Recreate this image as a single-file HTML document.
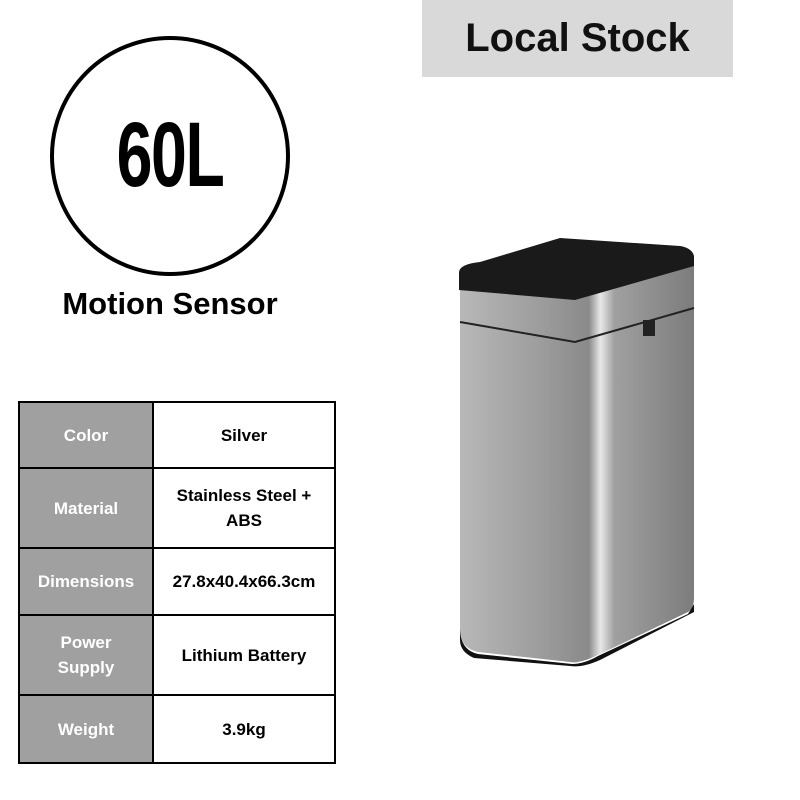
<!DOCTYPE html>
<html><head><style>
body{margin:0;width:800px;height:800px;background:#fff;position:relative;overflow:hidden;font-family:"Liberation Sans",sans-serif}
.ab{position:absolute}
table{border-collapse:collapse;position:absolute;left:18px;top:401px;width:318px}
td{border:2px solid #000;text-align:center;font-weight:bold;font-size:17px;line-height:25px;padding:0}
td.k{background:#a0a0a0;color:#fff;width:132px}
</style></head><body>
<div class="ab" style="left:422px;top:0;width:311px;height:77px;background:#d9d9d9;text-align:center;line-height:77px;font-size:40px;font-weight:bold;color:#111">Local Stock</div>
<div class="ab" style="left:50px;top:36px;width:232px;height:232px;border:4px solid #000;border-radius:50%"></div>
<div class="ab" style="left:50px;top:100px;width:240px;text-align:center;font-size:92px;font-weight:bold;line-height:110px;transform:scaleX(0.7);letter-spacing:-2px">60L</div>
<div class="ab" style="left:10px;top:284px;width:320px;text-align:center;font-size:31px;font-weight:bold;line-height:40px">Motion Sensor</div>
<table>
<tr style="height:66px"><td class="k">Color</td><td>Silver</td></tr>
<tr style="height:80px"><td class="k">Material</td><td>Stainless Steel +<br>ABS</td></tr>
<tr style="height:67px"><td class="k">Dimensions</td><td>27.8x40.4x66.3cm</td></tr>
<tr style="height:80px"><td class="k">Power<br>Supply</td><td>Lithium Battery</td></tr>
<tr style="height:68px"><td class="k">Weight</td><td>3.9kg</td></tr>
</table>
<svg class="ab" style="left:0;top:0" width="800" height="800">
<defs>
<linearGradient id="f" x1="0" x2="1"><stop offset="0" stop-color="#b8b8b8"/><stop offset=".35" stop-color="#9c9c9c"/><stop offset=".55" stop-color="#8a8a8a"/><stop offset=".6" stop-color="#e8e8e8"/><stop offset=".66" stop-color="#a0a0a0"/><stop offset="1" stop-color="#7c7c7c"/></linearGradient>
</defs>
<path d="M460,280 L460,630 Q460,648 478,652 L570,662 Q580,664 600,654 L688,612 Q694,608 694,598 L694,262 Z" fill="url(#f)"/>
<path d="M460,628 Q460,650 478,654 L572,664 Q584,664 598,656 L688,614 L694,604 L694,612 L600,660 Q582,668 570,666 L474,658 Q460,652 460,640 Z" fill="#111"/>
<path d="M459,272 L459,290 L575,300 L694,266 L694,256 Q692,248 680,246 L560,238 L480,262 Q460,264 459,272 Z" fill="#1a1a1a"/>
<path d="M460,322 L575,342 L694,308" stroke="#222" stroke-width="2" fill="none"/>
<rect x="643" y="320" width="12" height="16" fill="#222"/>
</svg>
</body></html>
